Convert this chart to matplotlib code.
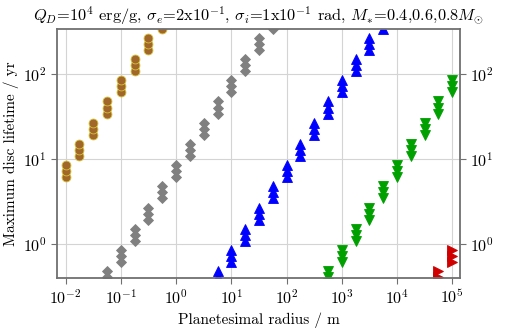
import matplotlib
matplotlib.use('Agg')
import matplotlib.pyplot as plt

plt.rcParams['font.family'] = 'serif'
plt.rcParams['font.serif'] = ['cmr10']
plt.rcParams['mathtext.fontset'] = 'cm'
plt.rcParams['axes.formatter.use_mathtext'] = True

# Planetesimal radius (m) and max disc lifetime (yr) for M* = 0.4, 0.6, 0.8 Msun
gold_r = [0.01, 0.0178, 0.0316, 0.0562, 0.1, 0.178, 0.316, 0.562]
gold_t04 = [6.1, 10.9, 19.4, 34.4, 61, 109, 194, 344]
gold_t06 = [7.2, 12.8, 22.8, 40.5, 72, 128, 228, 405]
gold_t08 = [8.5, 15.1, 26.9, 47.8, 85, 151, 269, 478]

gray_r = [0.0562, 0.1, 0.178, 0.316, 0.562, 1, 1.78, 3.16, 5.62, 10, 17.8, 31.6, 56.2]
gray_t04 = [0.344, 0.61, 1.09, 1.94, 3.44, 6.1, 10.9, 19.4, 34.4, 61, 109, 194, 344]
gray_t06 = [0.405, 0.72, 1.28, 2.28, 4.05, 7.2, 12.8, 22.8, 40.5, 72, 128, 228, 405]
gray_t08 = [0.478, 0.85, 1.51, 2.69, 4.78, 8.5, 15.1, 26.9, 47.8, 85, 151, 269, 478]

blue_r = [5.62, 10, 17.8, 31.6, 56.2, 100, 178, 316, 562, 1000, 1780, 3160, 5620]
blue_t04 = [0.344, 0.61, 1.09, 1.94, 3.44, 6.1, 10.9, 19.4, 34.4, 61, 109, 194, 344]
blue_t06 = [0.405, 0.72, 1.28, 2.28, 4.05, 7.2, 12.8, 22.8, 40.5, 72, 128, 228, 405]
blue_t08 = [0.478, 0.85, 1.51, 2.69, 4.78, 8.5, 15.1, 26.9, 47.8, 85, 151, 269, 478]

green_r = [562, 1000, 1780, 3160, 5620, 10000, 17800, 31600, 56200, 100000]
green_t04 = [0.344, 0.61, 1.09, 1.94, 3.44, 6.1, 10.9, 19.4, 34.4, 61]
green_t06 = [0.405, 0.72, 1.28, 2.28, 4.05, 7.2, 12.8, 22.8, 40.5, 72]
green_t08 = [0.478, 0.85, 1.51, 2.69, 4.78, 8.5, 15.1, 26.9, 47.8, 85]

red_r = [56200, 100000]
red_t04 = [0.344, 0.61]
red_t06 = [0.405, 0.72]
red_t08 = [0.478, 0.85]

series = [
    (gold_r, [gold_t04, gold_t06, gold_t08], 'o', '#a0662a', '#d6c23a', 6.4),
    (gray_r, [gray_t04, gray_t06, gray_t08], 'D', '#808080', '#808080', 5.4),
    (blue_r, [blue_t04, blue_t06, blue_t08], '^', '#0000ff', '#0000ff', 6.8),
    (green_r, [green_t04, green_t06, green_t08], 'v', '#00a000', '#00a000', 6.8),
    (red_r, [red_t04, red_t06, red_t08], '>', '#d00000', '#d00000', 6.8),
]

fig = plt.figure(figsize=(5.18, 3.31), dpi=100)
ax = fig.add_axes([0.110, 0.160, 0.778, 0.752])

for r, ts, marker, fc, ec, ms in series:
    for t in ts:
        ax.plot(r, t, linestyle='none', marker=marker, markersize=ms,
                markerfacecolor=fc, markeredgecolor=ec, markeredgewidth=0.6)

ax.set_xscale('log')
ax.set_yscale('log')
ax.set_xlim(10 ** -2.157, 10 ** 5.14)
ax.set_ylim(10 ** -0.40, 10 ** 2.53)
ax.set_xticks([1e-2, 1e-1, 1e0, 1e1, 1e2, 1e3, 1e4, 1e5])
ax.set_yticks([1e0, 1e1, 1e2])
ax.minorticks_off()
ax.grid(True, color='#d4d4d4', linewidth=0.8)
ax.set_axisbelow(True)

ax.tick_params(which='both', direction='out', length=4, color='#707070',
               labelsize=11.5, right=True, labelright=True, top=False)
for s in ax.spines.values():
    s.set_color('#707070')
    s.set_linewidth(1.3)

ax.set_xlabel('Planetesimal radius / m', fontsize=11)
ax.set_ylabel('Maximum disc lifetime / yr', fontsize=11, labelpad=3)
ax.set_title(r'$Q_D$=10$^4$ erg/g, $\sigma_e$=2x10$^{-1}$, $\sigma_i$=1x10$^{-1}$ rad, $M_{*}$=0.4,0.6,0.8$M_{\odot}$',
             fontsize=11.8, pad=6)

fig.savefig('out.png', dpi=100)
